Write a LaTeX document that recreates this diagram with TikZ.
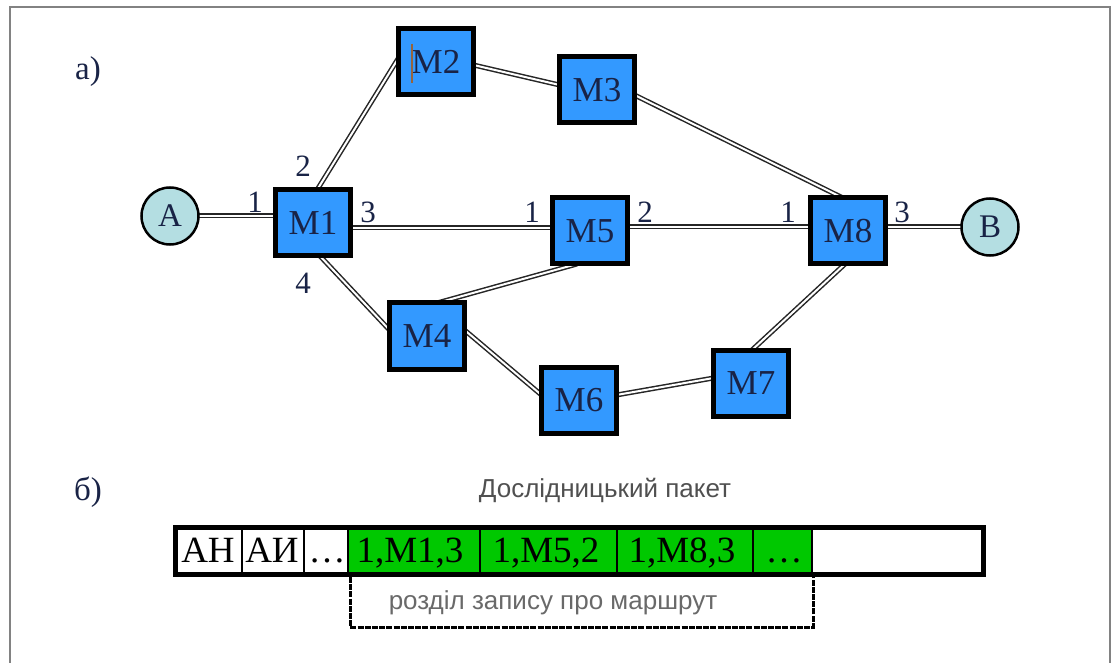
\documentclass[tikz,border=0pt]{standalone}
\usepackage{fontspec}
\setmainfont{Liberation Serif}
\newfontfamily\captionsans{Liberation Sans}
\usetikzlibrary{calc,backgrounds}
\definecolor{switchblue}{RGB}{51,153,255}
\definecolor{hostfill}{RGB}{180,222,226}
\definecolor{inkblue}{RGB}{25,35,70}
\definecolor{routegreen}{RGB}{0,200,0}
\definecolor{framegray}{RGB}{130,130,130}
\definecolor{captiongray}{RGB}{80,80,80}
\definecolor{captionlight}{RGB}{105,105,105}
\definecolor{cursorbrown}{RGB}{150,100,60}

\begin{document}
\begin{tikzpicture}[x=1pt,y=-1pt,
  switch/.style={rectangle, draw=black, line width=5pt, fill=switchblue,
    minimum width=75pt, minimum height=66pt, inner sep=0pt, outer sep=0pt,
    text=inkblue, font=\fontsize{35}{37}\selectfont},
  host/.style={circle, draw=black, line width=2.5pt, fill=hostfill,
    minimum size=57pt, inner sep=0pt, outer sep=0pt,
    text=inkblue, font=\fontsize{33}{35}\selectfont},
  link/.style={draw=black!85, double=white, line width=1.5pt, double distance=2pt},
  port/.style={text=inkblue, font=\fontsize{31}{33}\selectfont, inner sep=0pt},
  part/.style={text=inkblue, font=\fontsize{33}{35}\selectfont, inner sep=0pt},
  cell/.style={inner sep=0pt, anchor=base, font=\fontsize{37}{39}\selectfont},
  caption/.style={inner sep=0pt, text=captiongray, font=\captionsans\fontsize{26}{28}\selectfont},
  bracket/.style={draw=black, line width=3pt, dash pattern=on 6pt off 1.2pt},
  separator/.style={draw=black, line width=2pt}
]
\useasboundingbox (0,0) rectangle (1112,663);

% page frame, open at the bottom
\draw[framegray, line width=2pt] (10,663) -- (10,7) -- (1110,7) -- (1110,663);

% part labels
\node[part] (lblA) at (88,72) {а)};
\node[part] (lblB) at (88,492) {б)};

% hosts and switches
\node[host] (A) at (170,216) {A};
\node[host] (B) at (990,227) {B};
\node[switch] (M1) at (313,223) {M1};
\node[switch] (M2) at (436,62) {M2};
\node[switch] (M3) at (597,90) {M3};
\node[switch] (M5) at (590,231) {M5};
\node[switch] (M8) at (848,231) {M8};
\node[switch] (M4) at (427,336) {M4};
\node[switch] (M6) at (579,400) {M6};
\node[switch] (M7) at (751,383) {M7};

% text cursor left inside M2
\draw[cursorbrown, line width=1.3pt] (412,44) -- (412,83);

% links between the nodes
\begin{scope}[on background layer]
  \draw[link] (A.east) -- (A.east -| M1.west);
  \draw[link] ($(M1.north)+(4,0)$) -- ($(M2.west)+(0,-4)$);
  \draw[link] ($(M2.east)+(0,3)$) -- ($(M3.west)+(0,-5)$);
  \draw[link] ($(M3.east)+(0,5)$) -- ($(M8.north)+(-5,0)$);
  \draw[link] ($(M1.east)+(0,5)$) -- ($(M5.west)+(0,-3)$);
  \draw[link] ($(M5.east)+(0,-4)$) -- ($(M8.west)+(0,-4)$);
  \draw[link] (B.west -| M8.east) -- (B.west);
  \draw[link] ($(M1.south)+(7,0)$) -- ($(M4.west)+(0,-6)$);
  \draw[link] ($(M4.north)+(10,0)$) -- ($(M5.south)+(-13,0)$);
  \draw[link] ($(M4.east)+(0,-6)$) -- ($(M6.west)+(0,-5)$);
  \draw[link] ($(M6.east)+(0,-5)$) -- ($(M7.west)+(0,-5)$);
  \draw[link] ($(M7.north)+(1,0)$) -- ($(M8.south)+(-3,0)$);
\end{scope}

% port numbers
\node[port] (p12) at (303,166) {2};
\node[port] (p11) at (255,202) {1};
\node[port] (p13) at (368,212) {3};
\node[port] (p14) at (303,283) {4};
\node[port] (p51) at (532,212) {1};
\node[port] (p52) at (645,212) {2};
\node[port] (p81) at (788,212) {1};
\node[port] (p83) at (902,212) {3};

% probe packet
\node[caption] (title) at (605,490) {Дослідницький пакет};
\fill[routegreen] (348,530) rectangle (812,572);
\foreach \x in {242,304,348,480,617,753,812}
  \draw[separator] (\x,530) -- (\x,572);
\draw[black, line width=5pt] (175.5,527.5) rectangle (983.5,574.5);
\node[cell] (cAH) at (208,562) {АН};
\node[cell] (cAI) at (272,562) {АИ};
\node[cell] (cDots) at (327,562) {\dots};
\node[cell] (r1) at (410,562) {1,M1,3};
\node[cell] (r5) at (546,562) {1,M5,2};
\node[cell] (r8) at (682,562) {1,M8,3};
\node[cell] (rDots) at (784,562) {\dots};

% route record section
\coordinate (bl) at (350,577);
\coordinate (br) at (813,577);
\draw[bracket] (bl) -- ($(bl)+(0,50)$) -- ($(br)+(0,50)$) -- (br);
\node[caption, text=captionlight] (section) at (553,603) {розділ запису про маршрут};
\end{tikzpicture}
\end{document}
